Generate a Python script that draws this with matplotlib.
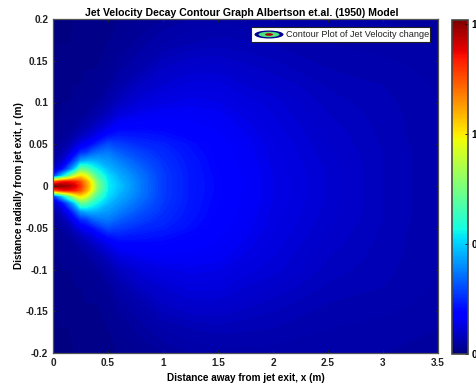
import matplotlib
matplotlib.use('Agg')
import matplotlib.pyplot as plt
from matplotlib.patches import Ellipse
import numpy as np

plt.rcParams['font.family'] = ['Liberation Sans', 'DejaVu Sans']

title = 'Jet Velocity Decay Contour Graph Albertson et.al. (1950) Model'
xlabel = 'Distance away from jet exit, x (m)'
ylabel = 'Distance radially from jet exit, r (m)'
legend_label = 'Contour Plot of Jet Velocity change'
xticks = [0, 0.5, 1, 1.5, 2, 2.5, 3, 3.5]
xticklabels = ['0', '0.5', '1', '1.5', '2', '2.5', '3', '3.5']
yticks = [-0.2, -0.15, -0.1, -0.05, 0, 0.05, 0.1, 0.15, 0.2]
yticklabels = ['-0.2', '-0.15', '-0.1', '-0.05', '0', '0.05', '0.1', '0.15', '0.2']
cbar_ticks = [0, 0.5, 1, 1.5]
cbar_labels = ['0', '0', '1', '1']   # as legible in the reference (cut by the page edge there)

# Stations, upper half (field is mirrored about r = 0)
x_stations = [0, .05, .1, .15, .2, .25, .3, .35, .4, .5, .6, .8, 1, 1.25, 1.5, 1.75, 2, 2.5, 3, 3.5]
r_stations = [0, .005, .012, .02, .03, .04, .05, .06, .07, .085, .1, .12, .14, .17, .2]
# velocity estimated from colour, one row per r station
velocity = [
    [1.5, 1.5, 1.48, 1.45, 1.4, 1.3, 1.15, 1.0, .78, .55, .48, .37, .275, .225, .195, .165, .14, .108, .08, .06],
    [1.2, 1.3, 1.35, 1.35, 1.33, 1.25, 1.12, .97, .76, .54, .47, .37, .275, .225, .195, .165, .14, .108, .08, .06],
    [.25, .4, .55, .72, .9, 1.02, .95, .8, .66, .52, .45, .36, .275, .225, .193, .164, .14, .108, .08, .06],
    [.09, .14, .24, .36, .5, .72, .7, .62, .56, .47, .42, .34, .27, .223, .19, .163, .138, .107, .08, .06],
    [.05, .08, .12, .2, .3, .42, .45, .46, .45, .42, .38, .31, .26, .22, .187, .16, .136, .105, .08, .06],
    [.04, .05, .07, .11, .17, .25, .27, .32, .35, .37, .33, .28, .25, .213, .184, .158, .134, .103, .08, .06],
    [.03, .04, .05, .065, .1, .14, .17, .2, .24, .3, .28, .25, .235, .205, .18, .155, .132, .1, .078, .06],
    [.025, .03, .035, .045, .06, .08, .1, .12, .15, .21, .23, .22, .21, .19, .172, .15, .128, .098, .077, .06],
    [.02, .025, .03, .035, .04, .055, .065, .08, .1, .14, .18, .19, .19, .178, .165, .145, .125, .095, .076, .06],
    [.02, .02, .025, .03, .03, .035, .04, .05, .06, .085, .125, .15, .16, .16, .155, .135, .12, .09, .075, .06],
    [.015, .02, .02, .02, .025, .03, .03, .035, .04, .06, .085, .12, .135, .145, .14, .125, .115, .085, .073, .06],
    [.015, .015, .015, .02, .02, .02, .025, .025, .03, .04, .06, .09, .11, .125, .125, .11, .1, .078, .07, .058],
    [.01, .015, .015, .015, .015, .02, .02, .02, .02, .03, .045, .065, .09, .105, .105, .095, .085, .07, .065, .055],
    [.01, .01, .01, .01, .015, .015, .015, .015, .02, .02, .03, .045, .06, .07, .075, .072, .07, .06, .055, .05],
    [.01, .01, .01, .01, .01, .01, .015, .015, .015, .02, .02, .03, .04, .05, .055, .055, .055, .052, .05, .045],
]

x_arr = np.array(x_stations)
r_arr = np.array(r_stations)
v_arr = np.array(velocity)
r_full = np.concatenate([-r_arr[:0:-1], r_arr])
v_full = np.vstack([v_arr[:0:-1], v_arr])

fig = plt.figure(figsize=(4.76, 3.87), dpi=100)
W, H = 476, 387
ax = fig.add_axes([53/W, 1-353/H, 385/W, 334/H])
ax.contourf(x_arr, r_full, v_full, levels=np.linspace(0, 1.52, 153), cmap='jet', vmin=0, vmax=1.52)
ax.set_xlim(0, 3.5)
ax.set_ylim(-0.2, 0.2)
ax.set_xticks(xticks, xticklabels)
ax.set_yticks(yticks, yticklabels)
ax.tick_params(direction='in', length=2.5, width=0.6, color='#222222', labelsize=7.2, pad=3.5, top=True, right=True)
for t in ax.get_xticklabels() + ax.get_yticklabels():
    t.set_fontweight('bold')
    t.set_color('#222222')
for s in ax.spines.values():
    s.set_linewidth(0.9)
    s.set_color('#555555')
ax.set_xlabel(xlabel, fontsize=7.2, fontweight='bold', labelpad=3.5)
ax.set_ylabel(ylabel, fontsize=7.2, fontweight='bold', labelpad=1)
ax.set_title(title, fontsize=7.6, fontweight='bold', pad=2.5, x=0.49)

cax = fig.add_axes([452/W, 1-354/H, 16/W, 334/H])
cb = fig.colorbar(plt.cm.ScalarMappable(norm=plt.Normalize(0, 1.52), cmap='jet'), cax=cax)
cb.set_ticks(cbar_ticks, labels=cbar_labels)
cax.tick_params(direction='in', length=2.5, width=0.6, labelsize=7.2, pad=2.5)
for t in cax.get_yticklabels():
    t.set_fontweight('bold')
cb.outline.set_linewidth(1.2)
cb.outline.set_edgecolor('#444444')

# Legend box with contour glyph
lax = fig.add_axes([251/W, 1-42/H, 179/W, 15/H])
lax.set_xlim(0, 179)
lax.set_ylim(0, 15)
lax.set_xticks([])
lax.set_yticks([])
lax.set_facecolor('white')
for s in lax.spines.values():
    s.set_linewidth(0.8)
    s.set_color('#222222')
for w, h, c in [(29, 8, '#000090'), (21, 5.5, '#50e080'), (8, 2.6, '#b00000')]:
    lax.add_patch(Ellipse((18, 7.5), w, h, fc=c, ec='none'))
lax.text(35, 7.5, legend_label, fontsize=6.6, va='center', ha='left', color='#222222')

fig.savefig('out.png', dpi=100)
